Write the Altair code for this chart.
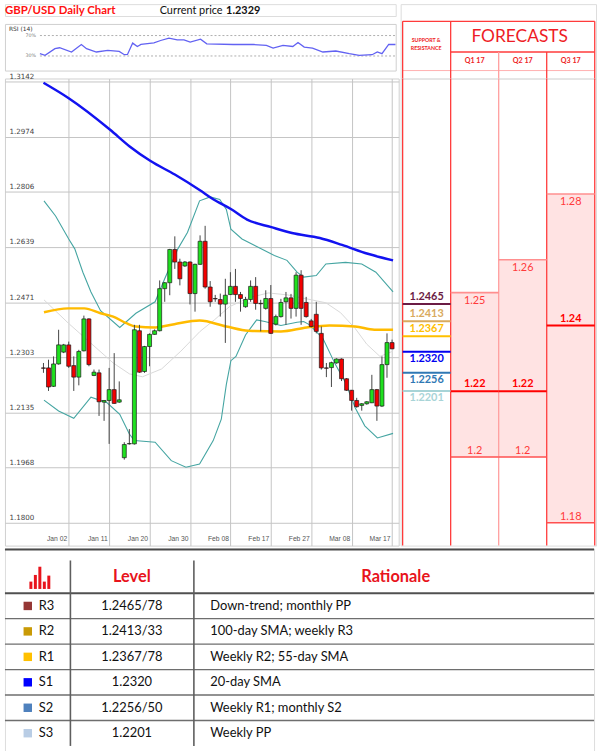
import altair as alt
import pandas as pd

# ---------------- daily candles (oldest first) ----------------
opens = [1.2271, 1.2271, 1.2215, 1.2283, 1.2319, 1.2341, 1.2278, 1.2243, 1.2323, 1.2420,
         1.2248, 1.2256, 1.2167, 1.2172, 1.2205, 1.2167, 1.1998, 1.2040, 1.2040, 1.2384,
         1.2260, 1.2336, 1.2373, 1.2384, 1.2512, 1.2530, 1.2631, 1.2593, 1.2581, 1.2593,
         1.2497, 1.2586, 1.2656, 1.2517, 1.2482, 1.2479, 1.2465, 1.2494, 1.2519, 1.2494,
         1.2457, 1.2479, 1.2519, 1.2467, 1.2452, 1.2482, 1.2404, 1.2427, 1.2472, 1.2484,
         1.2452, 1.2553, 1.2470, 1.2414, 1.2434, 1.2376, 1.2271, 1.2272, 1.2286, 1.2298,
         1.2238, 1.2203, 1.2172, 1.2157, 1.2162, 1.2165, 1.2205, 1.2155, 1.2281, 1.2348]
highs = [1.2286, 1.2296, 1.2306, 1.2387, 1.2344, 1.2351, 1.2306, 1.2326, 1.2430, 1.2422,
         1.2266, 1.2266, 1.2173, 1.2271, 1.2316, 1.2230, 1.2045, 1.2085, 1.2402, 1.2402,
         1.2338, 1.2376, 1.2388, 1.2537, 1.2532, 1.2633, 1.2671, 1.2603, 1.2596, 1.2595,
         1.2588, 1.2674, 1.2703, 1.2535, 1.2493, 1.2497, 1.2542, 1.2562, 1.2572, 1.2502,
         1.2487, 1.2537, 1.2547, 1.2478, 1.2507, 1.2523, 1.2433, 1.2481, 1.2502, 1.2496,
         1.2562, 1.2568, 1.2487, 1.2420, 1.2472, 1.2397, 1.2286, 1.2290, 1.2300, 1.2300,
         1.2240, 1.2204, 1.2180, 1.2164, 1.2170, 1.2250, 1.2207, 1.2306, 1.2376, 1.2357]
lows = [1.2256, 1.2201, 1.2213, 1.2281, 1.2316, 1.2271, 1.2201, 1.2218, 1.2321, 1.2276,
        1.2246, 1.2125, 1.2110, 1.2040, 1.2162, 1.2165, 1.1992, 1.2038, 1.2038, 1.2256,
        1.2256, 1.2276, 1.2372, 1.2382, 1.2472, 1.2492, 1.2572, 1.2522, 1.2578, 1.2464,
        1.2442, 1.2584, 1.2512, 1.2457, 1.2472, 1.2427, 1.2347, 1.2493, 1.2472, 1.2442,
        1.2454, 1.2472, 1.2448, 1.2382, 1.2448, 1.2374, 1.2400, 1.2424, 1.2402, 1.2421,
        1.2427, 1.2402, 1.2424, 1.2394, 1.2376, 1.2266, 1.2243, 1.2213, 1.2284, 1.2231,
        1.2201, 1.2141, 1.2150, 1.2141, 1.2159, 1.2164, 1.2110, 1.2152, 1.2241, 1.2328]
closes = [1.2270, 1.2213, 1.2283, 1.2341, 1.2341, 1.2276, 1.2243, 1.2321, 1.2420, 1.2281,
          1.2258, 1.2168, 1.2172, 1.2205, 1.2163, 1.2174, 1.2038, 1.2041, 1.2387, 1.2258,
          1.2336, 1.2373, 1.2384, 1.2512, 1.2530, 1.2631, 1.2593, 1.2542, 1.2593, 1.2497,
          1.2586, 1.2656, 1.2517, 1.2472, 1.2481, 1.2465, 1.2492, 1.2519, 1.2494, 1.2482,
          1.2479, 1.2519, 1.2467, 1.2466, 1.2482, 1.2376, 1.2427, 1.2470, 1.2484, 1.2452,
          1.2553, 1.2452, 1.2427, 1.2397, 1.2382, 1.2271, 1.2270, 1.2287, 1.2298, 1.2238,
          1.2203, 1.2172, 1.2153, 1.2162, 1.2168, 1.2205, 1.2155, 1.2281, 1.2348, 1.2329]

# axis ticks
price_ticks = [1.3142, 1.2974, 1.2806, 1.2639, 1.2471, 1.2303, 1.2135, 1.1968, 1.1800]
date_ticks = [5, 13, 21, 29, 37, 45, 53, 61, 69]
date_labels = ["Jan 02", "Jan 11", "Jan 20", "Jan 30", "Feb 08", "Feb 17", "Feb 27", "Mar 08", "Mar 17"]

# overlay studies: (bar, value)
sma_long = [(0, 1.3138), (5, 1.3091), (13.2, 1.2995), (17, 1.2945), (21.2, 1.2900), (26, 1.2859),
            (30.9, 1.2812), (33.6, 1.2784), (37.1, 1.2754), (40.3, 1.2722), (45.1, 1.2699),
            (49.2, 1.2681), (54.7, 1.2666), (59.1, 1.2645), (64.2, 1.2618), (69.2, 1.2598)]
sma_mid = [(0.1, 1.2440), (4.9, 1.2452), (8.1, 1.2452), (11.3, 1.2437), (13.8, 1.2427), (16.4, 1.2407),
           (18.3, 1.2397), (22.1, 1.2394), (25.9, 1.2404), (30.9, 1.2415), (36.2, 1.2397), (40.6, 1.2384),
           (47.0, 1.2382), (52.1, 1.2394), (56.6, 1.2400), (61.7, 1.2397), (65.5, 1.2387), (69.2, 1.2387)]
bb_upper = [(0.1, 1.2779), (2.4, 1.2733), (5.0, 1.2663), (6.2, 1.2633), (7.8, 1.2562), (9.4, 1.2502),
            (11.3, 1.2445), (15.1, 1.2394), (18.3, 1.2437), (22.1, 1.2472), (24.0, 1.2542), (26.6, 1.2633),
            (28.5, 1.2683), (30.9, 1.2779), (33.0, 1.2791), (34.9, 1.2783), (36.2, 1.2753), (37.1, 1.2693),
            (39.3, 1.2663), (42.5, 1.2638), (45.7, 1.2613), (48.2, 1.2598), (50.2, 1.2562), (51.5, 1.2547),
            (54.0, 1.2552), (55.9, 1.2587), (59.8, 1.2592), (63.0, 1.2587), (65.8, 1.2562), (69.2, 1.2502)]
bb_lower = [(0.1, 1.2173), (3.0, 1.2140), (6.0, 1.2118), (9.4, 1.2182), (12.6, 1.2165), (15.1, 1.2130),
            (17.0, 1.2070), (18.0, 1.2050), (22.1, 1.2045), (25.3, 1.1989), (28.2, 1.1969), (30.9, 1.1979),
            (33.6, 1.2050), (35.2, 1.2115), (36.2, 1.2221), (37.1, 1.2293), (38.1, 1.2306), (40.0, 1.2371),
            (42.2, 1.2417), (43.8, 1.2412), (47.0, 1.2400), (50.2, 1.2410), (51.5, 1.2412), (52.7, 1.2402),
            (55.3, 1.2361), (57.8, 1.2281), (59.8, 1.2226), (61.7, 1.2150), (63.6, 1.2095), (66.1, 1.2058),
            (69.2, 1.2072)]
bb_mid = [(0.1, 1.2478), (5.0, 1.2406), (9.4, 1.2346), (13.8, 1.2286), (17.0, 1.2253), (19.6, 1.2244),
          (23.4, 1.2268), (27.2, 1.2322), (31.0, 1.2382), (33.9, 1.2418), (36.8, 1.2457), (40.6, 1.2484),
          (44.5, 1.2499), (48.3, 1.2493), (52.1, 1.2481), (55.9, 1.2469), (58.8, 1.2439), (61.7, 1.2391),
          (64.0, 1.2343), (66.6, 1.2306), (69.2, 1.2322)]
rsi14 = [(0.1, 34.5), (1.1, 31.2), (3.0, 44.2), (3.9, 46.1), (6.2, 37.8), (8.1, 52.5), (9.1, 44.2),
         (11.0, 37.8), (13.2, 40.9), (15.4, 38.9), (16.4, 32.5), (17.0, 33.1), (18.0, 55.2), (18.9, 48.6),
         (19.6, 52.5), (22.1, 55.8), (23.4, 60.3), (25.0, 65.0), (26.6, 61.6), (27.9, 61.6), (29.1, 57.2),
         (31.1, 63.0), (32.3, 53.9), (37.4, 52.5), (41.3, 52.5), (43.8, 50.6), (45.1, 45.5), (47.0, 50.6),
         (48.9, 48.6), (49.9, 56.4), (51.1, 47.5), (52.7, 45.5), (54.7, 37.8), (57.2, 39.7), (59.8, 34.5),
         (61.7, 31.2), (64.2, 32.5), (65.2, 37.8), (66.1, 34.5), (67.4, 52.5), (68.7, 52.5)]
rsi_levels = [70, 30]

# support / resistance
sr_names = ["R3", "R2", "R1", "S1", "S2", "S3"]
sr_levels = [1.2465, 1.2413, 1.2367, 1.2320, 1.2256, 1.2201]
sr_line_colors = ["#6b1c44", "#d9aa5e", "#ffc000", "#0000f0", "#2f78b4", "#a8d4d7"]
sr_table_levels = ["1.2465/78", "1.2413/33", "1.2367/78", "1.2320", "1.2256/50", "1.2201"]
sr_rationale = ["Down-trend; monthly PP", "100-day SMA; weekly R3", "Weekly R2; 55-day SMA",
                "20-day SMA", "Weekly R1; monthly S2", "Weekly PP"]
sr_swatches = ["#953735", "#c99a06", "#ffc000", "#0000ff", "#4f81bd", "#b9cde5"]

# quarterly forecasts
fc_quarters = ["Q1 17", "Q2 17", "Q3 17"]
fc_high = [1.25, 1.26, 1.28]
fc_mid = [1.22, 1.22, 1.24]
fc_low = [1.20, 1.20, 1.18]

icon_heights = [0.33, 0.63, 1.0, 0.33, 0.6]

# ---------------- styling ----------------
FONT = "Lato"
RED = "#ee1c25"
UP = "#1fe01f"
DOWN = "#f20000"
PRICE_DOMAIN = [1.17307, 1.31510]
MAIN_W, MAIN_H = 397, 471
RIGHT_W = 197

price_scale = alt.Scale(domain=PRICE_DOMAIN, nice=False, zero=False)
bar_scale = alt.Scale(domain=[-6.64, 69.33], nice=False, zero=False)
col_scale = alt.Scale(domain=[-0.0413, 4.027], nice=False, zero=False)


def col_px(k):
    return 2 + 48.42 * k


label_expr = ("[" + ",".join(f"'{d}'" for d in date_labels) + "][indexof(["
              + ",".join(str(v) for v in date_ticks) + "], datum.value)]")

x_axis = alt.Axis(values=date_ticks, labelExpr=label_expr, title=None, orient="bottom",
                  domain=False, ticks=True, tickSize=0, tickOpacity=0, labelPadding=-7,
                  labelBaseline="middle", labelAlign="right", labelOffset=-2,
                  labelFontSize=6.8, labelFont="Liberation Sans", labelColor="#555",
                  labelFlush=False, labelOverlap=False, grid=True, gridColor="#c4c4c4")
y_axis = alt.Axis(values=price_ticks, format=".4f", title=None, orient="left",
                  domain=False, ticks=True, tickSize=0, tickOpacity=0, labelPadding=-4,
                  labelAlign="left", labelBaseline="bottom", labelOffset=-1,
                  labelFontSize=7.2, labelFont="DejaVu Sans", labelColor="#444",
                  labelFlush=False, labelOverlap=False, grid=True, gridColor="#c4c4c4")


def bx():
    return alt.X("bar:Q", scale=bar_scale, axis=x_axis)


def py(field):
    return alt.Y(f"{field}:Q", scale=price_scale, axis=y_axis)


def pts(points):
    return pd.DataFrame(points, columns=["bar", "value"])


# ---------------- main price panel ----------------
candles = pd.DataFrame({"bar": list(range(len(opens))), "open": opens, "high": highs,
                        "low": lows, "close": closes})
candles["fill"] = [UP if c >= o else DOWN for o, c in zip(opens, closes)]


def study(points, color, width, interp="linear", opacity=1.0):
    return alt.Chart(pts(points)).mark_line(color=color, strokeWidth=width, opacity=opacity,
                                            interpolate=interp).encode(x=bx(), y=py("value"))


main = alt.layer(
    study(bb_mid, "#d9d9d9", 1),
    study(bb_upper, "#45a5a2", 1.1),
    study(bb_lower, "#45a5a2", 1.1),
    study(sma_mid, "#ffbb00", 2.5, "monotone"),
    study(sma_long, "#1212f0", 2.5, "monotone"),
    alt.Chart(candles).mark_rule(color="#444", strokeWidth=1).encode(x=bx(), y=py("low"), y2="high"),
    alt.Chart(candles).mark_bar(size=4, stroke="#1a1a1a", strokeWidth=0.7).encode(
        x=bx(), y=py("open"), y2="close", fill=alt.Fill("fill:N", scale=None)),
).properties(width=MAIN_W, height=MAIN_H, view=alt.ViewBackground(stroke="#cfcfcf"))

# ---------------- RSI panel (the price read-out sits just above it) ----------------
rsi_x = alt.Scale(domain=[-6.64, 68.75], nice=False, zero=False)
rsi_y = alt.Scale(domain=[1.45, 92.7], nice=False, zero=False)
rsi_df = pts(rsi14)
lvl_df = pd.DataFrame({"level": rsi_levels, "label": [f"{v}%" for v in rsi_levels]})
cp_df = pd.DataFrame({"t": ["Current price"]})
price_df = pd.DataFrame({"t": [f"{closes[-1]:.4f}"]})
rsi = alt.layer(
    alt.Chart(lvl_df).mark_rule(color="#9a9a9a", strokeDash=[2, 2], strokeWidth=0.8).encode(
        x=alt.value(35.3), x2=alt.value(394), y=alt.Y("level:Q", scale=rsi_y, axis=None)),
    alt.Chart(lvl_df).mark_text(font="DejaVu Sans", fontSize=4.8, color="#777").encode(
        x=alt.value(26), y=alt.Y("level:Q", scale=rsi_y, axis=None), text="label:N"),
    alt.Chart(rsi_df).mark_line(color="#6262f2", strokeWidth=1.3).encode(
        x=alt.X("bar:Q", scale=rsi_x, axis=None), y=alt.Y("value:Q", scale=rsi_y, axis=None)),
    alt.Chart(pd.DataFrame({"t": ["RSI (14)"]})).mark_text(
        font="DejaVu Sans", fontSize=6, color="#333", align="left").encode(
        x=alt.value(4), y=alt.value(5), text="t:N"),
    alt.Chart(cp_df).mark_text(font=FONT, fontSize=11, color="#111", align="left").encode(
        x=alt.value(156), y=alt.value(-13), text="t:N"),
    alt.Chart(price_df).mark_text(font=FONT, fontSize=11, fontWeight="bold", color="#111",
                                  align="left").encode(x=alt.value(223), y=alt.value(-13), text="t:N"),
).properties(width=394, height=47, view=alt.ViewBackground(stroke="#cfcfcf"))

# ---------------- title line ----------------
title_df = pd.DataFrame({"t": ["GBP/USD Daily Chart"]})
title = alt.Chart(title_df).mark_text(font=FONT, fontSize=11.5, fontWeight="bold", color="#ff1010",
                                      align="left").encode(x=alt.value(0), y=alt.value(7), text="t:N"
                                                           ).properties(width=394, height=12)

left = alt.vconcat(title, rsi, main, spacing=8, bounds="flush")

# ---------------- forecast panel ----------------
border_df = pd.DataFrame({"k": [0, 1, 2, 3, 4],
                          "c": ["#ff3b3b", "#ff3b3b", "#ff9e9e", "#ff3b3b", "#ff3b3b"]})

fc_df = pd.DataFrame({"quarter": fc_quarters, "col": [1, 2, 3], "high": fc_high,
                      "mid": fc_mid, "low": fc_low})
fc_df["col_end"] = fc_df["col"] + 1
fc_df["col_c"] = fc_df["col"] + 0.5
fc_df["high_t"] = [f"{v:g}" for v in fc_high]
fc_df["mid_t"] = [f"{v:g}" for v in fc_mid]
fc_df["low_t"] = [f"{v:g}" for v in fc_low]

sr_df = pd.DataFrame({"name": sr_names, "level": sr_levels, "c": sr_line_colors,
                      "label": [f"{v:.4f}" for v in sr_levels]})
sr_df["side"] = sr_df["name"].str[0]
sr_df["col"] = 0
sr_df["col_end"] = 1
sr_df["col_c"] = 0.5


def cx(field):
    return alt.X(f"{field}:Q", scale=col_scale, axis=None)


def fy(field):
    return alt.Y(f"{field}:Q", scale=price_scale, axis=None)


def fc_text(field, dy, bold, color):
    return alt.Chart(fc_df).mark_text(font=FONT, fontSize=11, dy=dy, color=color,
                                      fontWeight="bold" if bold else "normal").encode(
        x=cx("col_c"), y=fy(field.replace("_t", "")), text=f"{field}:N")


def sr_text(side, dy):
    return alt.Chart(sr_df).transform_filter(alt.datum.side == side).mark_text(
        font=FONT, fontSize=11, fontWeight="bold", dy=dy).encode(
        x=cx("col_c"), y=fy("level"), text="label:N", color=alt.Color("c:N", scale=None))


body = alt.layer(
    alt.Chart(fc_df).mark_rect(color="#ffe3e3").encode(x=cx("col"), x2="col_end", y=fy("high"), y2="low"),
    alt.Chart(border_df).mark_rule(strokeWidth=1.3).encode(
        x=cx("k"), y=alt.value(0), y2=alt.value(MAIN_H), color=alt.Color("c:N", scale=None)),
    alt.Chart(sr_df).mark_rule(strokeWidth=2).encode(
        x=cx("col"), x2="col_end", y=fy("level"), color=alt.Color("c:N", scale=None)),
    sr_text("R", -7.5),
    sr_text("S", 7.5),
    alt.Chart(fc_df).mark_rule(color="#ff8f8f", strokeWidth=1.6).encode(x=cx("col"), x2="col_end", y=fy("high")),
    alt.Chart(fc_df).mark_rule(color="#ff5050", strokeWidth=1.6).encode(x=cx("col"), x2="col_end", y=fy("low")),
    alt.Chart(fc_df).mark_rule(color="#ff0000", strokeWidth=2.2).encode(x=cx("col"), x2="col_end", y=fy("mid")),
    fc_text("high_t", 8, False, "#ff3a3a"),
    fc_text("low_t", -6, False, "#ff3a3a"),
    fc_text("mid_t", -7, True, "#ff0000"),
).properties(width=RIGHT_W, height=MAIN_H)

# header of the forecast panel
one = pd.DataFrame({"a": [0]})


def hrule(k0, k1, y, color, width=1.3):
    return alt.Chart(one).mark_rule(color=color, strokeWidth=width).encode(
        x=alt.value(col_px(k0)), x2=alt.value(col_px(k1)), y=alt.value(y))


def vrule(k, y0, color):
    return alt.Chart(one).mark_rule(color=color, strokeWidth=1.3).encode(
        x=alt.value(col_px(k)), y=alt.value(y0), y2=alt.value(75))


def htext(txt, x, y, size, bold=True):
    return alt.Chart(pd.DataFrame({"t": [txt]})).mark_text(
        font=FONT, fontSize=size, color=RED, fontWeight="bold" if bold else "normal").encode(
        x=alt.value(x), y=alt.value(y), text="t:N")


header_layers = [
    hrule(0, 4, 17.3, "#ff3b3b"),
    hrule(1, 4, 48.3, "#ff3b3b"),
    hrule(0, 4, 67, "#ffb0b0", 1),
    vrule(0, 17.3, "#ff3b3b"), vrule(1, 17.3, "#ff3b3b"), vrule(4, 17.3, "#ff3b3b"),
    vrule(2, 48.3, "#ff9e9e"), vrule(3, 48.3, "#ff3b3b"),
    htext("FORECASTS", 120, 33.5, 17.5, bold=False),
    htext("SUPPORT &", 25.7, 36, 5.3),
    htext("RESISTANCE", 25.7, 44.3, 5.3),
]
for i, q in enumerate(fc_quarters):
    header_layers.append(htext(q, col_px(i + 1.5), 57, 7.2))
fc_header = alt.layer(*header_layers).properties(width=RIGHT_W, height=75)

right = alt.vconcat(fc_header, body, spacing=0, bounds="flush")
top = alt.hconcat(left, right, spacing=0)

# ---------------- levels table ----------------
row_scale = alt.Scale(domain=[-1.753, 6.233], reverse=True, nice=False, zero=False)
rows = pd.DataFrame({"name": sr_names, "level": sr_table_levels, "why": sr_rationale,
                     "sw": sr_swatches, "r": list(range(len(sr_names)))})
rows["rc"] = rows["r"] + 0.5
lines_df = pd.DataFrame({"r": list(range(len(sr_names))),
                         "w": [2.0] + [1.4] * (len(sr_names) - 1),
                         "c": ["#505050"] + ["#6e6e6e"] * (len(sr_names) - 1)})
icon = pd.DataFrame({"i": list(range(len(icon_heights))), "h": icon_heights})
icon["base"] = -0.1675
icon["top"] = icon["base"] - icon["h"] * 0.873


def ry(field):
    return alt.Y(f"{field}:Q", scale=row_scale, axis=None)


def ttext(field, x, align, size=13, color="#111", bold=False):
    return alt.Chart(rows).mark_text(font=FONT, fontSize=size, color=color, align=align,
                                     fontWeight="bold" if bold else "normal").encode(
        x=alt.value(x), y=ry("rc"), text=f"{field}:N")


def sep(x):
    return alt.Chart(one).mark_rule(color="#5e5e5e", strokeWidth=1.6).encode(
        x=alt.value(x), y=alt.value(12), y2=alt.value(199))


def thead(txt, x):
    return alt.Chart(pd.DataFrame({"t": [txt]})).mark_text(
        font=FONT, fontSize=16.5, fontWeight="bold", color="#e8141c").encode(
        x=alt.value(x), y=alt.value(29), text="t:N")


table = alt.layer(
    alt.Chart(one).mark_rule(color="#4a4a4a", strokeWidth=2).encode(
        x=alt.value(0), x2=alt.value(594), y=alt.value(1)),
    alt.Chart(lines_df).mark_rule().encode(
        x=alt.value(0), x2=alt.value(594), y=ry("r"),
        strokeWidth=alt.StrokeWidth("w:Q", scale=None), color=alt.Color("c:N", scale=None)),
    sep(66), sep(190.5),
    alt.Chart(icon).mark_bar(size=3, color="#e8141c").encode(
        x=alt.X("i:Q", scale=alt.Scale(domain=[-4.674, 124.46], nice=False, zero=False), axis=None),
        y=ry("base"), y2="top"),
    thead("Level", 128), thead("Rationale", 394),
    alt.Chart(rows).mark_square(size=72, opacity=1).encode(
        x=alt.value(23), y=ry("rc"), color=alt.Color("sw:N", scale=None)),
    ttext("name", 34, "left"),
    ttext("level", 128, "center"),
    ttext("why", 207, "left"),
).properties(width=594, height=205)

chart = alt.vconcat(top, table, spacing=0).properties(
    padding={"left": 3, "right": 3, "top": 0, "bottom": 0}
).configure_view(stroke="transparent").configure(background="white")

chart.save("out.html", embed_options={"renderer": "svg", "actions": False})
